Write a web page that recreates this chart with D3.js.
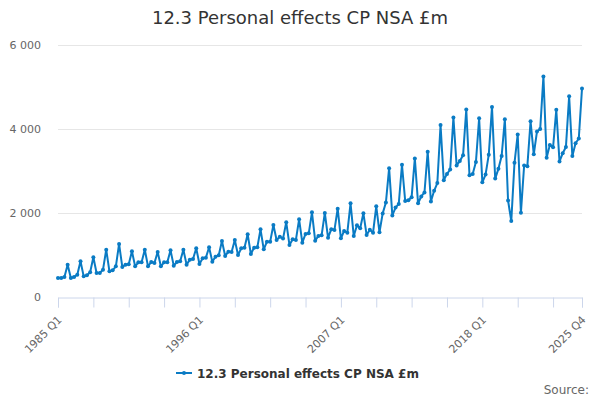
<!DOCTYPE html>
<html>
<head>
<meta charset="utf-8">
<script src="https://cdn.jsdelivr.net/npm/d3@7"></script>
<style>
  body { margin: 0; background: #fff; }
  text { font-family: "DejaVu Sans", Verdana, sans-serif; }
</style>
</head>
<body>
<div id="chart"></div>
<script>
// quarterly values, 1985 Q1 .. 2025 Q4
var startYear = 1985;
var values = [
  453, 453, 476, 770,   453, 476, 532, 850,   492, 516, 588, 945,   572, 572, 651, 1127,
  611, 635, 730, 1262,  715, 770, 778, 1088,  730, 826, 826, 1127,  730, 834, 810, 1072,
  730, 826, 826, 1112,  746, 834, 850, 1127,  770, 889, 905, 1160,
  786, 921, 937, 1183,  842, 960, 992, 1334,  977, 1080, 1072, 1358, 1000, 1159, 1175, 1493,
  1024, 1175, 1183, 1612, 1135, 1318, 1318, 1715, 1358, 1437, 1390, 1779, 1239, 1374, 1358, 1850,
  1294, 1501, 1517, 2017, 1342, 1453, 1469, 2001, 1413, 1612, 1596, 2104, 1397, 1572, 1532, 2231,
  1453, 1707, 1636, 1993, 1477, 1600, 1530, 2160,
  1542, 1991, 2248, 3067, 1943, 2128, 2216, 3148, 2288, 2304, 2377, 3300, 2232, 2393, 2489, 3461,
  2272, 2529, 2714, 4095, 2778, 2931, 3035, 4272, 3132, 3236, 3373, 4465, 2899, 2931, 3212, 4256,
  2730, 2915, 3389, 4521, 2819, 3051, 3357, 4232, 2297, 1807, 3196, 3870, 2008, 3132, 3116, 4184,
  3397, 3943, 3999, 5252, 3316, 3622, 3565, 4457, 3228, 3421, 3573, 4778, 3357, 3662, 3774, 4962
];
var labels = values.map(function(v, i){ return (startYear + Math.floor(i/4)) + ' Q' + (i%4 + 1); });
var yTicks = [0, 2000, 4000, 6000];
var seriesName = '12.3 Personal effects CP NSA £m';
var colour = '#0a7bc4';

var width = 600, height = 400;
var margin = {top: 45, right: 18, bottom: 103, left: 58};

var svg = d3.select('#chart').append('svg')
    .attr('width', width)
    .attr('height', height);

var x = d3.scaleLinear()
    .domain([0, values.length - 1])
    .range([margin.left, width - margin.right]);
var y = d3.scaleLinear()
    .domain([0, 6000])
    .range([height - margin.bottom, margin.top]);

// title
svg.append('text')
    .attr('x', width/2).attr('y', 24)
    .attr('text-anchor', 'middle')
    .style('font-size', '18px')
    .style('fill', '#333')
    .text(seriesName);

// gridlines + y labels
var fmt = function(d){ return d3.format(',')(d).replace(/,/g, ' '); };
svg.append('g').selectAll('line')
    .data(yTicks.filter(function(d){ return d > 0; }))
    .enter().append('line')
    .attr('x1', margin.left).attr('x2', width - margin.right)
    .attr('y1', function(d){ return y(d) + 0.5; })
    .attr('y2', function(d){ return y(d) + 0.5; })
    .attr('stroke', '#e6e6e6');
svg.append('g').selectAll('text')
    .data(yTicks)
    .enter().append('text')
    .attr('x', 41)
    .attr('y', function(d){ return y(d) + 4; })
    .attr('text-anchor', 'end')
    .style('font-size', '11px')
    .style('fill', '#666')
    .text(fmt);

// x axis
var tickIdx = d3.range(0, values.length, 11).concat([values.length - 1]);
var labelIdx = [0, 44, 88, 132, values.length - 1];
var xAxis = d3.axisBottom(x)
    .tickValues(tickIdx)
    .tickSize(10)
    .tickFormat(function(d){ return labelIdx.indexOf(d) >= 0 ? labels[d] : ''; });
var gx = svg.append('g')
    .attr('transform', 'translate(0,' + (y(0) + 0.5) + ')')
    .call(xAxis);
gx.select('.domain').attr('stroke', '#ccd6eb');
gx.selectAll('.tick line').attr('stroke', '#ccd6eb');
gx.selectAll('.tick text')
    .style('font-size', '11px')
    .style('fill', '#666')
    .attr('text-anchor', 'end')
    .attr('dy', null)
    .attr('y', 0)
    .attr('transform', 'translate(4,23) rotate(-45)');

// series
var line = d3.line()
    .x(function(d, i){ return x(i); })
    .y(function(d){ return y(d); });
svg.append('path')
    .datum(values)
    .attr('d', line)
    .attr('fill', 'none')
    .attr('stroke', colour)
    .attr('stroke-width', 2)
    .attr('stroke-linejoin', 'round');
svg.append('g').selectAll('circle')
    .data(values)
    .enter().append('circle')
    .attr('cx', function(d, i){ return x(i); })
    .attr('cy', function(d){ return y(d); })
    .attr('r', 2)
    .attr('fill', colour);

// legend
var lg = svg.append('g').attr('transform', 'translate(176,373)');
lg.append('line').attr('x1', 0).attr('x2', 16).attr('stroke', colour).attr('stroke-width', 2);
lg.append('circle').attr('cx', 8).attr('r', 2).attr('fill', colour);
lg.append('text')
    .attr('x', 21).attr('y', 4.5)
    .style('font-size', '12px')
    .style('font-weight', 'bold')
    .style('fill', '#333')
    .text(seriesName);

// credits
svg.append('text')
    .attr('x', 589).attr('y', 394)
    .attr('text-anchor', 'end')
    .style('font-size', '12px')
    .style('fill', '#666')
    .text('Source:');
</script>
</body>
</html>
